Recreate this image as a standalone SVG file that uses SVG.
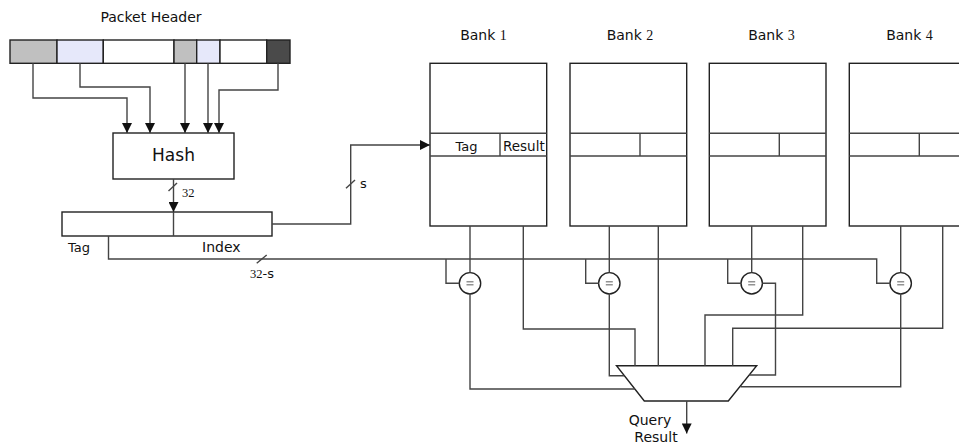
<svg xmlns="http://www.w3.org/2000/svg" width="959" height="446" viewBox="0 0 959 446">
<style>
.box{fill:#fff;stroke:#222;stroke-width:1.4}
.ln{fill:none;stroke:#444;stroke-width:1.4}
.t{font-family:"DejaVu Sans","Verdana",sans-serif;font-size:14px;fill:#111}
.s{font-family:"Liberation Serif","Times New Roman",serif}
.eq{stroke:#777;stroke-width:1.2}
</style>
<defs>
<marker id="arr" viewBox="0 0 10 10" refX="10" refY="5" markerWidth="11.5" markerHeight="10" markerUnits="userSpaceOnUse" orient="auto"><path d="M0,0 L10,5 L0,10 z" fill="#111"/></marker>
</defs>
<rect width="959" height="446" fill="#fff"/>

<g id="packet-header">
<text class="t" x="151" y="21.5" text-anchor="middle">Packet Header</text>
<rect x="10" y="40" width="47" height="23.3" fill="#c0c0c0" stroke="#222" stroke-width="1.4"/>
<rect x="57" y="40" width="46.3" height="23.3" fill="#e6e8fa" stroke="#222" stroke-width="1.4"/>
<rect x="103.3" y="40" width="70.7" height="23.3" class="box"/>
<rect x="174" y="40" width="22.7" height="23.3" fill="#c0c0c0" stroke="#222" stroke-width="1.4"/>
<rect x="196.7" y="40" width="23.3" height="23.3" fill="#e6e8fa" stroke="#222" stroke-width="1.4"/>
<rect x="220" y="40" width="46.7" height="23.3" class="box"/>
<rect x="266.7" y="40" width="23.3" height="23.3" fill="#4a4a4a" stroke="#222" stroke-width="1.4"/>
</g>

<g id="hash">
<rect x="113" y="133" width="121" height="46" class="box"/>
<text class="t" x="173.5" y="161" text-anchor="middle" style="font-size:17px">Hash</text>
</g>

<g id="register">
<rect x="62" y="212" width="210" height="24" class="box"/>
<line x1="173.5" y1="212" x2="173.5" y2="236" class="ln"/>
<text class="t" x="68" y="252" style="font-size:13px">Tag</text>
<text class="t" x="202" y="252">Index</text>
</g>

<g id="bank1">
<text class="t" x="483.5" y="40" text-anchor="middle">Bank <tspan class="s">1</tspan></text>
<rect x="430" y="63.3" width="116.7" height="162.7" class="box"/>
<line x1="430" y1="133.3" x2="546.7" y2="133.3" class="ln"/>
<line x1="430" y1="156" x2="546.7" y2="156" class="ln"/>
<line x1="500" y1="133.3" x2="500" y2="156" class="ln"/>
<text class="t" x="466.5" y="150.5" text-anchor="middle" style="font-size:13px">Tag</text>
<text class="t" x="503" y="150.5" style="font-size:13.5px">Result</text>
</g>
<g id="bank2">
<text class="t" x="630" y="40" text-anchor="middle">Bank <tspan class="s">2</tspan></text>
<rect x="570" y="63.3" width="116.7" height="162.7" class="box"/>
<line x1="570" y1="133.3" x2="686.7" y2="133.3" class="ln"/>
<line x1="570" y1="156" x2="686.7" y2="156" class="ln"/>
<line x1="640" y1="133.3" x2="640" y2="156" class="ln"/>
</g>
<g id="bank3">
<text class="t" x="771.5" y="40" text-anchor="middle">Bank <tspan class="s">3</tspan></text>
<rect x="709.3" y="63.3" width="116.7" height="162.7" class="box"/>
<line x1="709.3" y1="133.3" x2="826" y2="133.3" class="ln"/>
<line x1="709.3" y1="156" x2="826" y2="156" class="ln"/>
<line x1="779.3" y1="133.3" x2="779.3" y2="156" class="ln"/>
</g>
<g id="bank4">
<text class="t" x="909.5" y="40" text-anchor="middle">Bank <tspan class="s">4</tspan></text>
<rect x="849.3" y="63.3" width="116.7" height="162.7" class="box"/>
<line x1="849.3" y1="133.3" x2="966" y2="133.3" class="ln"/>
<line x1="849.3" y1="156" x2="966" y2="156" class="ln"/>
<line x1="919.3" y1="133.3" x2="919.3" y2="156" class="ln"/>
</g>

<g id="comparators">
<g id="cmp1"><circle cx="470" cy="283.3" r="10.7" class="box"/><line x1="466.5" y1="281.8" x2="473.5" y2="281.8" class="eq"/><line x1="466.5" y1="284.8" x2="473.5" y2="284.8" class="eq"/></g>
<g id="cmp2"><circle cx="609.3" cy="283.3" r="10.7" class="box"/><line x1="605.8" y1="281.8" x2="612.8" y2="281.8" class="eq"/><line x1="605.8" y1="284.8" x2="612.8" y2="284.8" class="eq"/></g>
<g id="cmp3"><circle cx="751.7" cy="283.3" r="10.7" class="box"/><line x1="748.2" y1="281.8" x2="755.2" y2="281.8" class="eq"/><line x1="748.2" y1="284.8" x2="755.2" y2="284.8" class="eq"/></g>
<g id="cmp4"><circle cx="900.7" cy="283.3" r="10.7" class="box"/><line x1="897.2" y1="281.8" x2="904.2" y2="281.8" class="eq"/><line x1="897.2" y1="284.8" x2="904.2" y2="284.8" class="eq"/></g>
</g>

<g id="mux">
<polygon points="616.5,365.7 756.7,365.7 728.3,401 644.3,401" class="box"/>
<text class="t" x="650" y="425" text-anchor="middle">Query</text>
<text class="t" x="656" y="442" text-anchor="middle">Result</text>
</g>

<g id="connectors">
<path d="M33,63.3 V98 H127 V133" class="ln" marker-end="url(#arr)"/>
<path d="M80,63.3 V87 H150 V133" class="ln" marker-end="url(#arr)"/>
<path d="M185,63.3 V133" class="ln" marker-end="url(#arr)"/>
<path d="M208,63.3 V133" class="ln" marker-end="url(#arr)"/>
<path d="M278,63.3 V90 H219 V133" class="ln" marker-end="url(#arr)"/>

<path d="M173.5,179 V212" class="ln" marker-end="url(#arr)"/>
<path d="M168.5,191 L177,183" class="ln"/>
<text class="t s" x="182" y="197" style="font-size:12.5px">32</text>

<path d="M272,224 H350.7 V145 H430" class="ln" marker-end="url(#arr)"/>
<path d="M346,188.3 L355,180" class="ln"/>
<text class="t" x="360" y="188" style="font-size:13px">s</text>

<path d="M108.5,236 V259 H876.7 V283.3 H890" class="ln"/>
<path d="M256.7,263.3 L266.7,255" class="ln"/>
<text class="t" x="250" y="278" style="font-size:13px"><tspan class="s" style="font-size:12.5px">32</tspan>-s</text>
<path d="M446,259 V283.3 H459.3" class="ln"/>
<path d="M585.7,259 V283.3 H598.6" class="ln"/>
<path d="M727.7,259 V283.3 H741" class="ln"/>

<path d="M470,226 V272.6" class="ln"/>
<path d="M470,294 V389 H634.8" class="ln"/>
<path d="M523.3,226 V329 H635 V365.7" class="ln"/>

<path d="M609.3,226 V272.6" class="ln"/>
<path d="M609.3,294 V375.7 H624.4" class="ln"/>
<path d="M658.3,226 V365.7" class="ln"/>

<path d="M751.7,226 V272.6" class="ln"/>
<path d="M762.4,283.3 H775.5 V375 H749.2" class="ln"/>
<path d="M802.7,226 V315 H705 V365.7" class="ln"/>

<path d="M900.7,226 V272.6" class="ln"/>
<path d="M900.7,294 V386.7 H740.5" class="ln"/>
<path d="M942.7,226 V328.3 H732.7 V365.7" class="ln"/>

<path d="M686.7,401 V433.5" class="ln" marker-end="url(#arr)"/>
</g>
</svg>
